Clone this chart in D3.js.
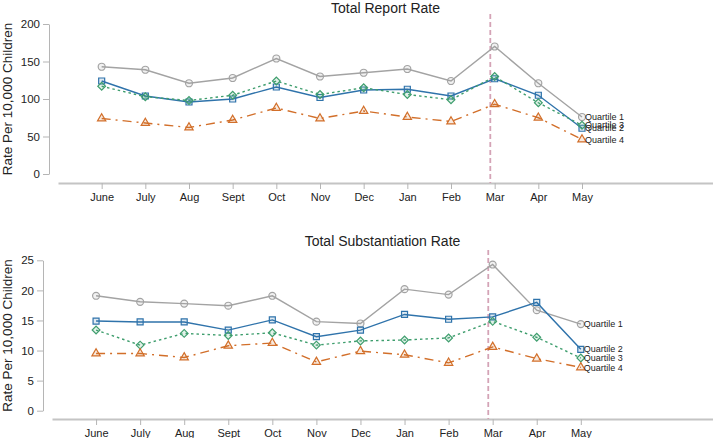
<!DOCTYPE html>
<html>
<head>
<meta charset="utf-8">
<script src="https://cdn.jsdelivr.net/npm/d3@7"></script>
<style>
  body { margin: 0; background: #fff; }
  svg { font-family: "Liberation Sans", Arial, sans-serif; }
</style>
</head>
<body>
<div id="chart"></div>
<script>
const width = 713;
const height = 438;

const months = ["June", "July", "Aug", "Sept", "Oct", "Nov", "Dec", "Jan", "Feb", "Mar", "Apr", "May"];
const quartiles = ["Quartile 1", "Quartile 2", "Quartile 3", "Quartile 4"];

// Total report rate per 10,000 children
const report_q1 = [143, 139, 121, 128, 154, 130, 135, 140, 124, 170, 121, 76];
const report_q2 = [124, 104, 96, 100, 116, 102, 112, 113, 104, 127, 105, 61];
const report_q3 = [117, 103, 98, 105, 124, 106, 115, 106, 99, 130, 95, 65];
const report_q4 = [74, 68, 62, 72, 88, 74, 84, 76, 70, 93, 75, 46];

// Total substantiation rate per 10,000 children
const subst_q1 = [19.1, 18.1, 17.8, 17.45, 19.1, 14.8, 14.5, 20.2, 19.3, 24.3, 16.7, 14.4];
const subst_q2 = [14.9, 14.75, 14.75, 13.4, 15.1, 12.3, 13.4, 16.0, 15.2, 15.6, 18.0, 10.2];
const subst_q3 = [13.4, 10.9, 12.85, 12.5, 12.95, 10.9, 11.6, 11.75, 12.1, 14.85, 12.2, 8.75];
const subst_q4 = [9.5, 9.5, 8.85, 10.8, 11.25, 8.1, 9.9, 9.3, 7.95, 10.6, 8.65, 7.2];

const reportTicks = [0, 50, 100, 150, 200];
const substTicks = [0, 5, 10, 15, 20, 25];

const styles = [
    { color: "#a3a3a3", dash: null, symbol: d3.symbolCircle, size: 38, rot: 0 },
    { color: "#2f73ab", dash: null, symbol: d3.symbolSquare, size: 36, rot: 0 },
    { color: "#3f9e6e", dash: "2.5,3", symbol: d3.symbolSquare, size: 30, rot: 45 },
    { color: "#d26f2a", dash: "9,5,2,5", symbol: d3.symbolTriangle, size: 30, rot: 0 }
];

const svg = d3.select("#chart")
    .append("svg")
    .attr("width", width)
    .attr("height", height);

function drawPanel(opt) {
    const g = svg.append("g");
    const x = d3.scaleLinear().domain([-1, 14]).range([opt.xLeft, width]);
    const y = d3.scaleLinear().domain(opt.yDomain).range([opt.yBottom, opt.yTop]);

    // y axis
    const yAxis = g.append("g")
        .attr("transform", `translate(${opt.yAxisX},0)`)
        .call(d3.axisLeft(y).tickValues(opt.ticks).tickSize(6).tickPadding(3).tickSizeOuter(0));
    yAxis.select(".domain").attr("stroke", "#b5b5b5");
    yAxis.selectAll(".tick line").attr("stroke", "#b5b5b5");
    yAxis.selectAll("text").attr("fill", "#222").style("font-size", "11.5px");

    // x axis
    const xAxis = g.append("g")
        .attr("transform", `translate(0,${opt.xAxisY})`)
        .call(d3.axisBottom(x).tickValues(d3.range(months.length)).tickFormat(i => months[i])
            .tickSize(6).tickPadding(4).tickSizeOuter(0));
    xAxis.select(".domain").attr("stroke", "#c4c4c4").attr("stroke-width", 2);
    xAxis.selectAll(".tick line").attr("stroke", "#b5b5b5");
    xAxis.selectAll("text").attr("fill", "#222").style("font-size", "11px");

    // y label
    g.append("text")
        .attr("transform", `translate(12,${(opt.yTop + opt.yBottom) / 2}) rotate(-90)`)
        .attr("text-anchor", "middle")
        .style("font-size", "13.5px")
        .attr("fill", "#222")
        .text("Rate Per 10,000 Children");

    // title
    g.append("text")
        .attr("x", (opt.xLeft + width) / 2)
        .attr("y", opt.titleY)
        .attr("text-anchor", "middle")
        .style("font-size", "14px")
        .attr("fill", "#222")
        .text(opt.title);

    // vertical reference line
    g.append("line")
        .attr("x1", x(8.9)).attr("x2", x(8.9))
        .attr("y1", opt.refTop).attr("y2", opt.xAxisY)
        .attr("stroke", "#d4a3b6")
        .attr("stroke-width", 1.8)
        .attr("stroke-dasharray", "5,3");

    const line = d3.line()
        .x((d, i) => x(i))
        .y(d => y(d));

    opt.series.forEach((vals, k) => {
        const st = styles[k];
        g.append("path")
            .datum(vals)
            .attr("fill", "none")
            .attr("stroke", st.color)
            .attr("stroke-width", 1.4)
            .attr("stroke-dasharray", st.dash)
            .attr("d", line);

        g.selectAll(null)
            .data(vals)
            .enter()
            .append("path")
            .attr("transform", (d, i) => `translate(${x(i)},${y(d)}) rotate(${st.rot})`)
            .attr("d", d3.symbol().type(st.symbol).size(st.size))
            .attr("fill", st.color)
            .attr("fill-opacity", 0.15)
            .attr("stroke", st.color)
            .attr("stroke-width", 1.2);

        g.append("text")
            .attr("x", x(vals.length - 1) + 3)
            .attr("y", y(vals[vals.length - 1]))
            .attr("dy", "0.35em")
            .style("font-size", "9px")
            .attr("fill", "#222")
            .text(quartiles[k]);
    });
}

drawPanel({
    title: "Total Report Rate",
    titleY: 13,
    yDomain: [0, 200],
    ticks: reportTicks,
    yTop: 24, yBottom: 174,
    yAxisX: 49,
    xLeft: 58,
    xAxisY: 183,
    refTop: 14,
    series: [report_q1, report_q2, report_q3, report_q4]
});

drawPanel({
    title: "Total Substantiation Rate",
    titleY: 246,
    yDomain: [0, 25],
    ticks: substTicks,
    yTop: 260.3, yBottom: 410.7,
    yAxisX: 43,
    xLeft: 52,
    xAxisY: 419,
    refTop: 250,
    series: [subst_q1, subst_q2, subst_q3, subst_q4]
});
</script>
</body>
</html>
